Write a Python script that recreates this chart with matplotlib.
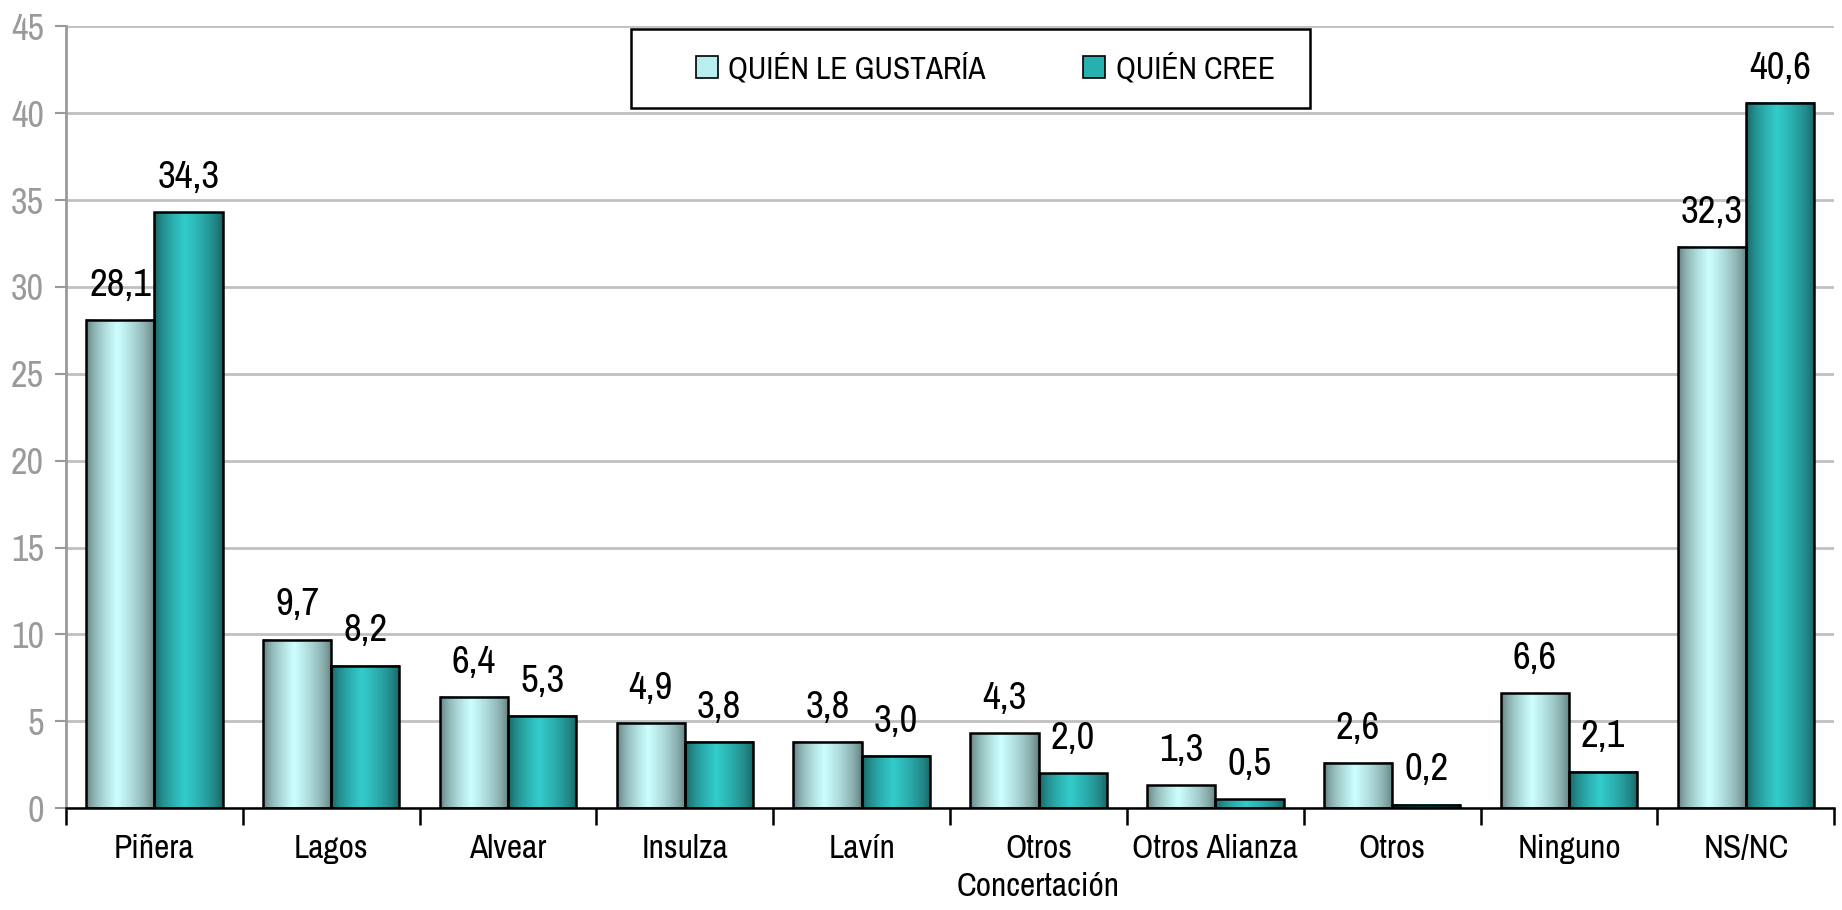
import numpy as np
import matplotlib
matplotlib.use("Agg")
from matplotlib import pyplot as plt
from matplotlib.colors import to_rgb
from matplotlib.patches import Patch, Rectangle

plt.rcParams["font.family"] = ["Archivo Narrow", "DejaVu Sans"]

# data
categories = ["Piñera", "Lagos", "Alvear", "Insulza", "Lavín",
              "Otros\nConcertación", "Otros Alianza", "Otros", "Ninguno", "NS/NC"]
series_names = ["QUIÉN LE GUSTARÍA", "QUIÉN CREE"]
le_gustaria = [28.1, 9.7, 6.4, 4.9, 3.8, 4.3, 1.3, 2.6, 6.6, 32.3]
cree = [34.3, 8.2, 5.3, 3.8, 3.0, 2.0, 0.5, 0.2, 2.1, 40.6]
y_ticks = list(range(0, 50, 5))

# (edge, centre) colours of the cylinder-like shading
shades = [("#5c7676", "#ccffff"), ("#175a5a", "#33cccc")]


def gradient(edge, centre, n=64):
    e, c = np.array(to_rgb(edge)), np.array(to_rgb(centre))
    t = np.linspace(0, 1, n)
    # lightest a bit left of centre, darker towards both edges
    w = np.where(t < 0.45, t / 0.45, 1 - (t - 0.45) / 0.55)
    w = np.clip(w, 0, 1) ** 0.6
    rgb = e[None, :] * (1 - w[:, None]) + c[None, :] * w[:, None]
    return rgb[None, :, :]


fig = plt.figure(figsize=(18.42, 9.10), dpi=100)
ax = fig.add_axes([0.0358, 0.112, 0.96, 0.859])

x = np.arange(len(categories))
width = 0.386
for k, vals in enumerate([le_gustaria, cree]):
    grad = gradient(*shades[k])
    offs = (k - 0.5) * width
    for xi, v in zip(x, vals):
        x0 = xi + offs - width / 2
        ax.imshow(grad, extent=[x0, x0 + width, 0, v], aspect="auto",
                  interpolation="bilinear", zorder=2)
        ax.text(xi + offs, v + 1.4, f"{v:.1f}".replace(".", ","),
                ha="center", va="baseline", fontsize=28, zorder=4)
    ax.bar(x + offs, vals, width, facecolor="none", edgecolor="black",
           linewidth=1.8, zorder=3)

ax.set_xlim(-0.5, len(categories) - 0.5)
ax.set_ylim(0, 45)
ax.set_yticks(y_ticks)
ax.set_yticklabels([str(t) for t in y_ticks], color="#9a9a9a", fontsize=26)
ax.tick_params(axis="y", length=8, color="#9a9a9a", width=1.5, pad=8)
ax.set_xticks(x)
ax.set_xticklabels(categories, fontsize=24, linespacing=1.3)
ax.tick_params(axis="x", length=0, pad=19)
ax.set_xticks(np.arange(-0.5, len(categories), 1), minor=True)
ax.tick_params(axis="x", which="minor", length=12, width=1.8, color="black")

ax.grid(axis="y", color="#c0c0c0", linewidth=2, zorder=0)
ax.set_axisbelow(True)
for s in ["top", "right"]:
    ax.spines[s].set_visible(False)
ax.spines["left"].set_color("#9a9a9a")
ax.spines["left"].set_linewidth(2)
ax.spines["bottom"].set_linewidth(1.8)

# legend box drawn by hand, entries without frame
W, H = 1842, 910
fig.patches.append(Rectangle((631 / W, 1 - 108 / H), 679 / W, 79 / H,
                             transform=fig.transFigure, facecolor="white",
                             edgecolor="black", linewidth=1.8, zorder=5))
handles = [Patch(facecolor="#b8eeee", edgecolor="black", linewidth=1.2),
           Patch(facecolor="#26b0b0", edgecolor="black", linewidth=1.2)]
leg = fig.legend(handles, series_names, ncol=2, fontsize=22.5,
                 loc="center left", bbox_to_anchor=(680 / W, 1 - 68 / H),
                 frameon=False, handlelength=0.7, handleheight=0.7,
                 handletextpad=0.35, columnspacing=3.1, borderpad=0)
leg.set_zorder(10)

fig.savefig("out.png", dpi=100)
